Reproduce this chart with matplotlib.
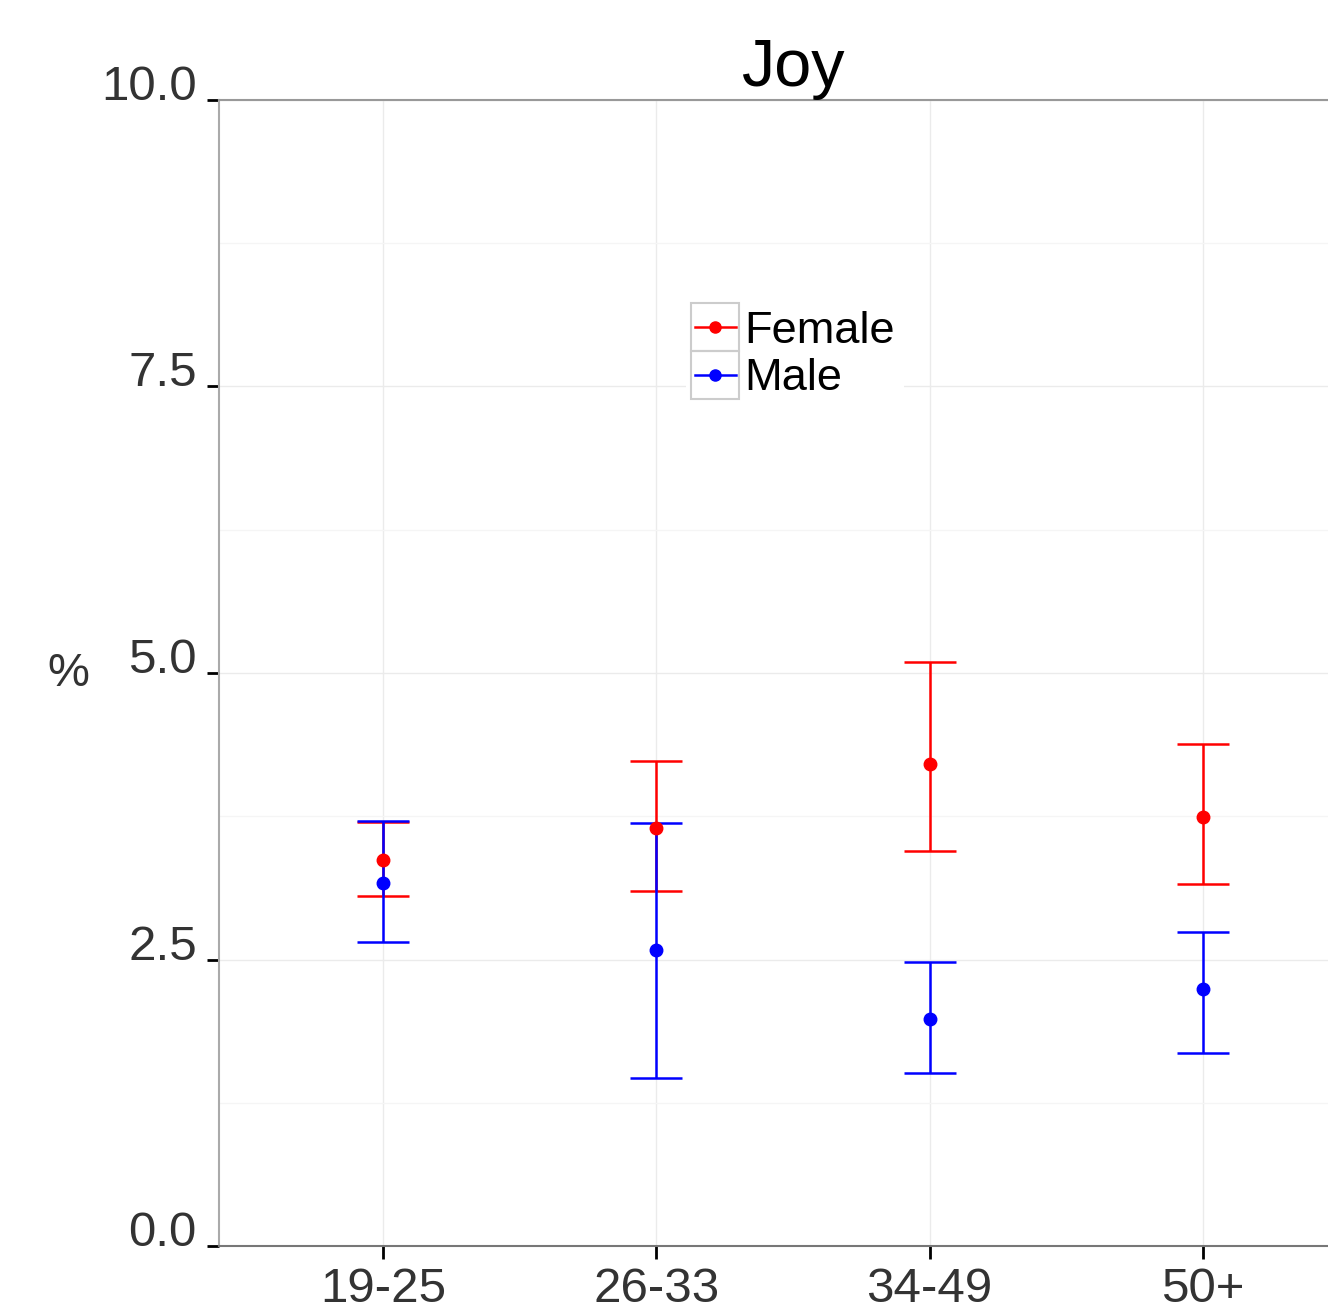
import numpy as np
import matplotlib
matplotlib.use("Agg")
import matplotlib.pyplot as plt
from matplotlib.patches import Rectangle
from matplotlib.lines import Line2D

plt.rcParams['font.family'] = ['Liberation Sans', 'DejaVu Sans']

# data
ages = ["19-25", "26-33", "34-49", "50+"]
female_mean = [3.37, 3.65, 4.21, 3.74]
female_low = [3.05, 3.10, 3.45, 3.16]
female_high = [3.70, 4.23, 5.10, 4.38]
male_mean = [3.17, 2.58, 1.98, 2.24]
male_low = [2.65, 1.47, 1.51, 1.68]
male_high = [3.71, 3.69, 2.48, 2.74]

x = np.arange(1, len(ages) + 1)

fig = plt.figure(figsize=(13.28, 13.05), dpi=100)
ax = fig.add_axes([219/1328, 59/1305, 1148/1328, 1146/1305])

# grid
ax.set_axisbelow(True)
ax.set_yticks([1.25, 3.75, 6.25, 8.75], minor=True)
ax.grid(True, which="major", color="#ebebeb", linewidth=1.0)
ax.grid(True, which="minor", axis="y", color="#f5f5f5", linewidth=1.0)

def draw(mean, low, high, col):
    mean = np.array(mean)
    err = [mean - np.array(low), np.array(high) - mean]
    ax.errorbar(x, mean, yerr=err, fmt="o", color=col, ecolor=col,
                elinewidth=1.8, capsize=19, capthick=1.8, markersize=9,
                zorder=3)

draw(female_mean, female_low, female_high, "#ff0000")
draw(male_mean, male_low, male_high, "#0000ff")

ax.set_xlim(0.4, 4.6)
ax.set_ylim(0, 10)
ax.set_xticks(x)
ax.set_xticklabels(ages)
ax.set_yticks([0, 2.5, 5.0, 7.5, 10.0])
ax.set_yticklabels(["0.0", "2.5", "5.0", "7.5", "10.0"], va="baseline")
ax.tick_params(axis="both", which="major", labelsize=35.5, labelcolor="#333333",
               color="black", length=9, width=2, pad=7)
ax.tick_params(axis="x", which="major", pad=6)
ax.tick_params(axis="both", which="minor", length=0)

ax.spines["left"].set_color("#aaaaaa")
ax.spines["top"].set_color("#999999")
ax.spines["bottom"].set_color("#777777")
ax.spines["right"].set_visible(False)
for s in ["left", "top", "bottom"]:
    ax.spines[s].set_linewidth(1.5)

ax.set_title("Joy", fontsize=48, pad=7)
fig.text(68/1328, 1 - 674/1305, "%", fontsize=34, color="#333333",
         ha="center", va="center")

# legend
handles = [Line2D([], [], color="#ff0000", marker="o", markersize=8, linewidth=1.8),
           Line2D([], [], color="#0000ff", marker="o", markersize=8, linewidth=1.8)]
leg = fig.legend(handles, ["Female", "Male"], loc="upper left",
                 bbox_to_anchor=(686/1328, 1 - 302/1305), fontsize=32.5,
                 frameon=True, edgecolor="white", facecolor="white", framealpha=1,
                 handlelength=0.9, handletextpad=0.2, labelspacing=0.14,
                 borderpad=0.2, borderaxespad=0)
leg.get_frame().set_linewidth(0)
for k in range(2):
    fig.patches.append(Rectangle((691/1328, 1 - (351 + 48*k)/1305), 48/1328, 48/1305,
                                 transform=fig.transFigure, fill=False,
                                 edgecolor="#cccccc", linewidth=1.5, zorder=10))

fig.savefig("out.png", dpi=100)
